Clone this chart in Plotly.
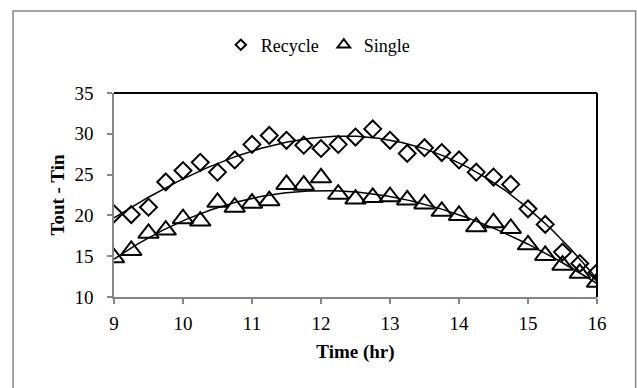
import numpy as np
import plotly.graph_objects as go

time_hr = [9, 9.25, 9.5, 9.75, 10, 10.25, 10.5, 10.75, 11, 11.25, 11.5, 11.75, 12,
           12.25, 12.5, 12.75, 13, 13.25, 13.5, 13.75, 14, 14.25, 14.5, 14.75, 15,
           15.25, 15.5, 15.75, 16]
recycle = [20.2, 20.1, 21.0, 24.1, 25.5, 26.5, 25.3, 26.8, 28.7, 29.8, 29.2, 28.6, 28.2,
           28.7, 29.6, 30.6, 29.2, 27.6, 28.3, 27.7, 26.8, 25.3, 24.7, 23.8, 20.8,
           18.9, 15.5, 14.1, 13.0]
single = [14.8, 15.7, 17.8, 18.2, 19.6, 19.3, 21.6, 21.0, 21.5, 21.8, 23.8, 23.7, 24.6,
          22.6, 22.0, 22.2, 22.3, 21.9, 21.4, 20.5, 20.0, 18.6, 19.1, 18.4, 16.4,
          15.1, 13.9, 12.9, 11.8]

x_ticks = [9, 10, 11, 12, 13, 14, 15, 16]
y_ticks = [10, 15, 20, 25, 30, 35]

FONT = "Liberation Serif"
x = np.array(time_hr)
xs = np.linspace(x.min(), x.max(), 200)

fig = go.Figure()
marker_line = dict(color="black", width=2)

fig.add_trace(go.Scatter(x=time_hr, y=recycle, mode="markers", showlegend=False,
                         marker=dict(symbol="diamond-open", size=13, line=marker_line, color="black")))
fig.add_trace(go.Scatter(x=time_hr, y=single, mode="markers", showlegend=False,
                         marker=dict(symbol="triangle-up-open", size=18, line=marker_line, color="black")))

for series in (recycle, single):
    coef = np.polyfit(x, np.array(series), 3)
    fig.add_trace(go.Scatter(x=xs, y=np.polyval(coef, xs), mode="lines", showlegend=False,
                             line=dict(color="black", width=1.5), hoverinfo="skip"))

# legend-only entries with small symbols
fig.add_trace(go.Scatter(x=[None], y=[None], mode="markers", name="Recycle",
                         marker=dict(symbol="diamond-open", size=8, color="black",
                                     line=dict(color="black", width=2))))
fig.add_trace(go.Scatter(x=[None], y=[None], mode="markers", name="Single",
                         marker=dict(symbol="triangle-up-open", size=11, color="black",
                                     line=dict(color="black", width=2))))

axis_gray = "#868686"
tick_font = dict(family=FONT, size=19, color="black")
title_font = dict(family=FONT, size=19, color="black")
fig.update_layout(
    width=637, height=388,
    margin=dict(l=114, r=40, t=93, b=91),
    paper_bgcolor="white", plot_bgcolor="white",
    font=dict(family=FONT, size=18, color="black"),
    legend=dict(orientation="h", x=0.422, xanchor="center", y=1.235, yanchor="middle",
                font=dict(family=FONT, size=18), itemwidth=30, tracegroupgap=0,
                bgcolor="rgba(0,0,0,0)"),
    xaxis=dict(range=[9, 16], tickvals=x_ticks, ticktext=[str(t) for t in x_ticks],
               showgrid=False, zeroline=False, showline=True, linecolor=axis_gray, linewidth=1.5,
               ticks="outside", ticklen=5, tickcolor=axis_gray, tickwidth=1.5,
               tickfont=tick_font, ticklabelstandoff=3,
               title=dict(text="<b>Time (hr)</b>", font=title_font, standoff=12)),
    yaxis=dict(range=[10, 35], tickvals=y_ticks, ticktext=[str(t) for t in y_ticks],
               showgrid=False, zeroline=False, showline=True, linecolor=axis_gray, linewidth=1.5,
               ticks="outside", ticklen=5, tickcolor=axis_gray, tickwidth=1.5,
               tickfont=tick_font, ticklabelstandoff=10,
               title=dict(text="<b>Tout - Tin</b>", font=title_font, standoff=5)),
    shapes=[
        dict(type="line", xref="paper", yref="paper", x0=0, x1=1, y0=1, y1=1,
             line=dict(color="black", width=2)),
        dict(type="line", xref="paper", yref="paper", x0=1, x1=1, y0=0, y1=1,
             line=dict(color="black", width=2)),
        dict(type="rect", xref="paper", yref="paper", x0=-0.209, x1=1.08, y0=-0.6, y1=1.402,
             line=dict(color=axis_gray, width=1.5), layer="below"),
    ],
)

fig.write_html("out.html")
